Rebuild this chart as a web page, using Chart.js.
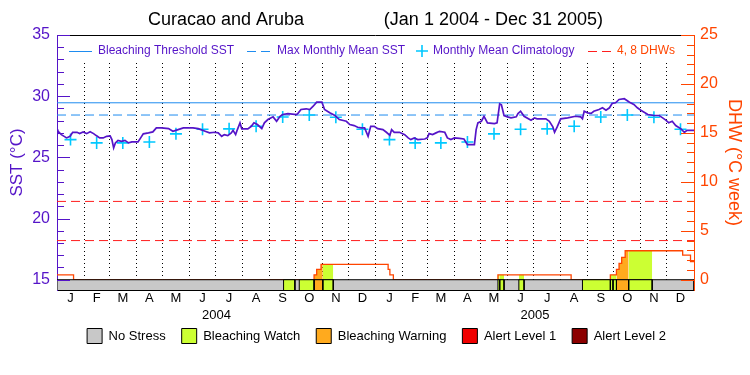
<!DOCTYPE html>
<html><head><meta charset="utf-8">
<script src="https://cdn.jsdelivr.net/npm/chart.js@4.4.1/dist/chart.umd.min.js"></script>
<style>html,body{margin:0;padding:0;background:#fff;}</style>
</head><body>
<canvas id="c" width="750" height="375"></canvas>
<script>
// ---------- data ----------
const chartTitleLeft = 'Curacao and Aruba';
const chartTitleRight = '(Jan 1 2004 - Dec 31 2005)';
// day offsets (since 2004-01-01) of month boundaries
const monthStarts = [0,31,60,91,121,152,182,213,244,274,305,335,366,397,425,456,486,517,547,578,609,639,670,700,731];
const monthLetters = ['J','F','M','A','M','J','J','A','S','O','N','D','J','F','M','A','M','J','J','A','S','O','N','D'];
const yearLabels = ['2004','2005'];
const yearMidDays = [183, 548.5];
const sstTickValues = [15,20,25,30,35];
const dhwTickValues = [0,5,10,15,20,25];

const climatology = [26.45,26.18,26.18,26.26,26.92,27.30,27.33,27.54,28.30,28.46,28.28,27.30];
const bleachingThreshold = 29.46;
const maxMonthlyMean = 28.46;
const dhwAlertLevels = [4, 8];

const sstDays = [0,1,5,11,15,18,23,26,30,34,38,42,45,49,53,57,61,63,65,67,70,74,78,82,86,93,96,99,105,110,114,120,128,133,139,145,156,162,170,175,181,185,189,192,196,200,202,205,207,210,212,219,223,226,230,235,238,242,248,252,256,259,265,275,277,280,286,290,294,298,304,307,313,319,324,332,336,341,345,349,353,357,360,364,368,374,378,382,384,387,393,399,403,406,410,414,422,425,427,431,435,439,445,448,452,456,462,467,471,479,481,483,487,490,494,502,505,508,510,513,517,521,527,529,532,536,544,548,551,561,565,569,571,574,578,586,595,601,603,605,609,613,616,622,626,630,634,637,641,645,651,657,662,666,670,678,685,691,695,699,702,706,710,716,720,723,731];
const sstValues = [27.27,27.14,26.86,26.59,26.72,27.05,27.05,26.94,27.07,26.94,27.10,26.94,26.78,26.59,26.59,26.72,26.76,26.45,25.77,26.18,26.39,26.31,26.39,26.18,26.26,26.26,26.59,26.92,27.00,27.08,27.41,27.41,27.35,27.13,27.27,27.41,27.41,27.35,27.13,27.00,27.05,27.00,26.72,26.86,26.78,27.00,27.21,26.86,27.27,27.82,27.33,27.33,27.54,27.82,27.68,27.35,27.82,28.09,28.31,27.95,28.36,28.50,28.58,28.50,28.64,28.91,28.97,28.91,29.18,29.51,29.51,28.91,28.64,28.42,28.09,27.95,27.68,27.60,27.46,27.41,27.41,26.72,27.54,27.54,27.35,27.27,27.05,26.80,27.27,27.05,27.05,26.86,26.59,26.45,26.59,26.45,26.50,26.59,26.94,26.86,27.00,27.13,27.05,26.59,26.45,26.59,26.55,26.50,26.04,26.04,27.27,27.82,27.95,28.36,27.82,27.76,27.82,29.37,29.30,28.42,28.31,28.23,28.31,28.58,28.77,28.36,28.03,28.23,28.15,28.15,27.95,27.49,27.05,27.49,28.15,28.23,28.36,28.31,28.15,28.77,28.64,28.60,28.77,28.91,29.05,28.85,29.05,29.40,29.46,29.73,29.79,29.51,29.32,29.05,28.85,28.50,28.42,28.42,28.23,28.03,27.82,27.95,27.60,27.33,27.05,27.21,27.21];

// Degree heating weeks (value holds from its day until the next day)
const dhwDays   = [0,   19, 295, 298,  303,  380,  382, 386, 506, 590, 635, 642,  645,  648,  652,  718,  727,  731];
const dhwValues = [0.5, 0,  0.5, 1.06, 1.57, 1.06, 0.5, 0,   0.5, 0,   0.5, 1.06, 1.67, 2.29, 2.96, 2.52, 1.84, 1.84];

// Bleaching stress periods (level index into stressNames)
const stressStart = [260, 278, 295, 305, 506, 508, 530, 603, 635, 638, 642, 656];
const stressEnd   = [273, 295, 305, 317, 508, 513, 536, 635, 638, 642, 656, 683];
const stressLevel = [1,   1,   2,   1,   1,   1,   1,   1,   1,   1,   2,   1];
const stressNames = ['No Stress','Bleaching Watch','Bleaching Warning','Alert Level 1','Alert Level 2'];

// ---------- styling ----------
const PURPLE = '#5514c8', BLUE = '#1e8cf0', CYAN = '#00c8ff', ORANGE = '#ff4500', RED = '#ff1e1e';
const stressColors = ['#c8c8c8','#ccff33','#ffaa1e','#f00000','#8c0000'];
const FONT = '"Liberation Sans", Arial, sans-serif';
const DAY_MAX = 731;
const SST_MIN = 14.16, SST_MAX = 35;
const DHW_MIN = (SST_MIN - 15) * 1.25, DHW_MAX = 25;

// ---------- datasets ----------
const pts = (xs, ys) => xs.map((x, i) => ({x, y: ys[i]}));
const dhwAt = d => { let v = 0; dhwDays.forEach((dd, i) => { if (dd <= d) v = dhwValues[i]; }); return v; };

const datasets = [];
// stress strip segments
stressStart.forEach((s, i) => {
  const e = stressEnd[i];
  datasets.push({type:'line', xAxisID:'x', yAxisID:'y', order:0,
    data:[{x:s,y:SST_MIN},{x:s,y:15},{x:e,y:15},{x:e,y:SST_MIN}],
    borderColor:'#000', borderWidth:1, backgroundColor:stressColors[stressLevel[i]], fill:'start', pointRadius:0});
});
// gray no-stress strip
datasets.push({type:'line', xAxisID:'x', yAxisID:'y', order:1,
  data:[{x:0,y:SST_MIN},{x:0,y:15},{x:DAY_MAX,y:15},{x:DAY_MAX,y:SST_MIN}],
  borderColor:'#000', borderWidth:1, backgroundColor:stressColors[0], fill:'start', pointRadius:0});
// SST
datasets.push({type:'line', label:'SST', xAxisID:'x', yAxisID:'y', order:2, data:pts(sstDays, sstValues),
  borderColor:PURPLE, borderWidth:1.7, pointRadius:0, fill:false, tension:0});
// climatology crosses
const climPts = [];
for (let k = 0; k < 24; k++) climPts.push({x:(monthStarts[k] + monthStarts[k+1]) / 2, y:climatology[k % 12]});
datasets.push({type:'line', label:'Monthly Mean Climatology', xAxisID:'x', yAxisID:'y', order:3, data:climPts,
  showLine:false, pointStyle:'cross', pointRadius:6, pointBorderWidth:1.6, pointBorderColor:CYAN, borderColor:CYAN});
// threshold & MMM
datasets.push({type:'line', label:'Bleaching Threshold SST', xAxisID:'x', yAxisID:'y', order:4,
  data:[{x:0,y:bleachingThreshold},{x:DAY_MAX,y:bleachingThreshold}], borderColor:BLUE, borderWidth:1, pointRadius:0});
datasets.push({type:'line', label:'Max Monthly Mean SST', xAxisID:'x', yAxisID:'y', order:4,
  data:[{x:0,y:maxMonthlyMean},{x:DAY_MAX,y:maxMonthlyMean}], borderColor:BLUE, borderWidth:1, borderDash:[9,5], pointRadius:0});
// DHW alert levels
dhwAlertLevels.forEach(v => datasets.push({type:'line', label:'4, 8 DHWs', xAxisID:'x', yAxisID:'y2', order:5,
  data:[{x:0,y:v},{x:DAY_MAX,y:v}], borderColor:RED, borderWidth:1, borderDash:[9,5], pointRadius:0}));
// DHW line
datasets.push({type:'line', label:'DHW', xAxisID:'x', yAxisID:'y2', order:6, data:pts(dhwDays, dhwValues),
  borderColor:ORANGE, borderWidth:1.3, stepped:true, pointRadius:0, fill:false});
// stress-coloured area under the DHW curve
stressStart.forEach((s, i) => {
  if (stressLevel[i] === 0) return;
  const e = stressEnd[i];
  const d = [{x:s, y:dhwAt(s)}];
  dhwDays.forEach((dd, j) => { if (dd > s && dd < e) d.push({x:dd, y:dhwValues[j]}); });
  d.push({x:e, y:dhwAt(e - 0.01)});
  datasets.push({type:'line', xAxisID:'x', yAxisID:'y2', order:7, data:d, stepped:true,
    borderWidth:0, borderColor:'rgba(0,0,0,0)', backgroundColor:stressColors[stressLevel[i]], fill:'origin', pointRadius:0});
});

// ---------- decorations plugin ----------
const decor = {
  id:'decor',
  beforeDatasetsDraw(chart) {
    // blank band behind the in-plot legend (grid lines start below it)
    const {ctx, chartArea:a} = chart;
    ctx.save();
    ctx.fillStyle = '#fff';
    ctx.fillRect(a.left + 1, a.top, a.right - a.left - 2, 26);
    ctx.restore();
  },
  afterDatasetsDraw(chart) {
    const {ctx, chartArea:a, scales:{x, y, y2}} = chart;
    ctx.save();
    // top frame line
    ctx.strokeStyle = '#000'; ctx.lineWidth = 1;
    ctx.beginPath(); ctx.moveTo(a.left, a.top + 0.5); ctx.lineTo(a.right, a.top + 0.5); ctx.stroke();
    // inward ticks, left
    ctx.strokeStyle = PURPLE;
    for (let v = sstTickValues[0]; v <= sstTickValues[sstTickValues.length-1]; v++) {
      const py = Math.round(y.getPixelForValue(v)) + 0.5;
      const len = sstTickValues.includes(v) ? 13 : 7;
      ctx.beginPath(); ctx.moveTo(a.left, py); ctx.lineTo(a.left + len, py); ctx.stroke();
    }
    // inward ticks, right
    ctx.strokeStyle = ORANGE;
    for (let v = dhwTickValues[0]; v <= dhwTickValues[dhwTickValues.length-1]; v++) {
      const py = Math.round(y2.getPixelForValue(v)) + 0.5;
      const len = dhwTickValues.includes(v) ? 13 : 7;
      ctx.beginPath(); ctx.moveTo(a.right, py); ctx.lineTo(a.right - len, py); ctx.stroke();
    }
    // title
    ctx.fillStyle = '#000'; ctx.font = '18px ' + FONT; ctx.textBaseline = 'middle';
    ctx.textAlign = 'left'; ctx.fillText(chartTitleLeft, 148, 20);
    ctx.textAlign = 'right'; ctx.fillText(chartTitleRight, 603, 20);
    // year labels under the month letters
    ctx.font = '13px ' + FONT; ctx.textAlign = 'center';
    yearLabels.forEach((t, i) => ctx.fillText(t, x.getPixelForValue(yearMidDays[i]), a.bottom + 25));
    // inner legend
    const ly = a.top + 16;
    ctx.font = '12px ' + FONT; ctx.textAlign = 'left';
    ctx.lineWidth = 1;
    ctx.strokeStyle = BLUE; ctx.setLineDash([]);
    ctx.beginPath(); ctx.moveTo(69, ly + 0.5); ctx.lineTo(92, ly + 0.5); ctx.stroke();
    ctx.fillStyle = PURPLE; ctx.fillText('Bleaching Threshold SST', 98, ly);
    ctx.setLineDash([9,5]);
    ctx.beginPath(); ctx.moveTo(247, ly + 0.5); ctx.lineTo(270, ly + 0.5); ctx.stroke();
    ctx.setLineDash([]);
    ctx.fillText('Max Monthly Mean SST', 277, ly);
    ctx.strokeStyle = CYAN; ctx.lineWidth = 1.6;
    ctx.beginPath(); ctx.moveTo(416, ly); ctx.lineTo(428, ly); ctx.moveTo(422, ly - 6); ctx.lineTo(422, ly + 6); ctx.stroke();
    ctx.fillText('Monthly Mean Climatology', 433, ly);
    ctx.strokeStyle = RED; ctx.lineWidth = 1; ctx.setLineDash([9,5]);
    ctx.beginPath(); ctx.moveTo(588, ly + 0.5); ctx.lineTo(612, ly + 0.5); ctx.stroke();
    ctx.setLineDash([]);
    ctx.fillStyle = ORANGE; ctx.fillText('4, 8 DHWs', 617, ly);
    ctx.restore();
  }
};

const monthMids = monthStarts.slice(0, -1).map((s, i) => (s + monthStarts[i+1]) / 2);

new Chart(document.getElementById('c'), {
  data: {datasets},
  options: {
    responsive:false, animation:false, devicePixelRatio:1,
    layout:{padding:{top:35, left:3, right:0, bottom:21.5}},
    plugins:{
      tooltip:{enabled:false},
      title:{display:false},
      legend:{
        display:true, position:'bottom', align:'center',
        labels:{
          boxWidth:15, boxHeight:15, padding:16, color:'#000',
          font:{family:FONT, size:13},
          generateLabels: () => stressNames.map((n, i) => ({text:n, fillStyle:stressColors[i], strokeStyle:'#000', lineWidth:1, hidden:false, fontColor:'#000'}))
        }
      }
    },
    scales:{
      x:{type:'linear', position:'bottom', min:0, max:DAY_MAX,
        grid:{display:false, drawTicks:false}, border:{display:true, color:'#000', width:1},
        afterBuildTicks: s => { s.ticks = monthMids.map(v => ({value:v})); },
        afterFit: s => { s.height = 22.5; },
        ticks:{autoSkip:false, maxRotation:0, padding:1, color:'#000', font:{family:FONT, size:13},
          callback:(v, i) => monthLetters[i]}},
      xg:{type:'linear', position:'top', min:0, max:DAY_MAX,
        grid:{display:true, drawTicks:false, color:'#000', lineWidth:1}, border:{display:false, dash:[1,3]},
        afterBuildTicks: s => { s.ticks = monthStarts.map(v => ({value:v})); },
        afterFit: s => { s.height = 0; },
        ticks:{display:false}},
      y:{type:'linear', position:'left', min:SST_MIN, max:SST_MAX,
        grid:{display:false, drawTicks:false}, border:{display:true, color:PURPLE, width:1},
        afterBuildTicks: s => { s.ticks = sstTickValues.map(v => ({value:v})); },
        afterFit: s => { s.width = 54; },
        title:{display:true, text:'SST (°C)', color:PURPLE, font:{family:FONT, size:17}, padding:{top:4, bottom:0}},
        ticks:{color:PURPLE, padding:7, font:{family:FONT, size:16}}},
      y2:{type:'linear', position:'right', min:DHW_MIN, max:DHW_MAX,
        grid:{display:false, drawTicks:false}, border:{display:true, color:ORANGE, width:1},
        afterBuildTicks: s => { s.ticks = dhwTickValues.map(v => ({value:v})); },
        afterFit: s => { s.width = 56; },
        title:{display:true, text:'DHW (°C week)', color:ORANGE, font:{family:FONT, size:18}, padding:{top:5, bottom:0}},
        ticks:{color:ORANGE, padding:6, font:{family:FONT, size:16}}}
    }
  },
  plugins:[decor]
});
</script>
</body></html>
